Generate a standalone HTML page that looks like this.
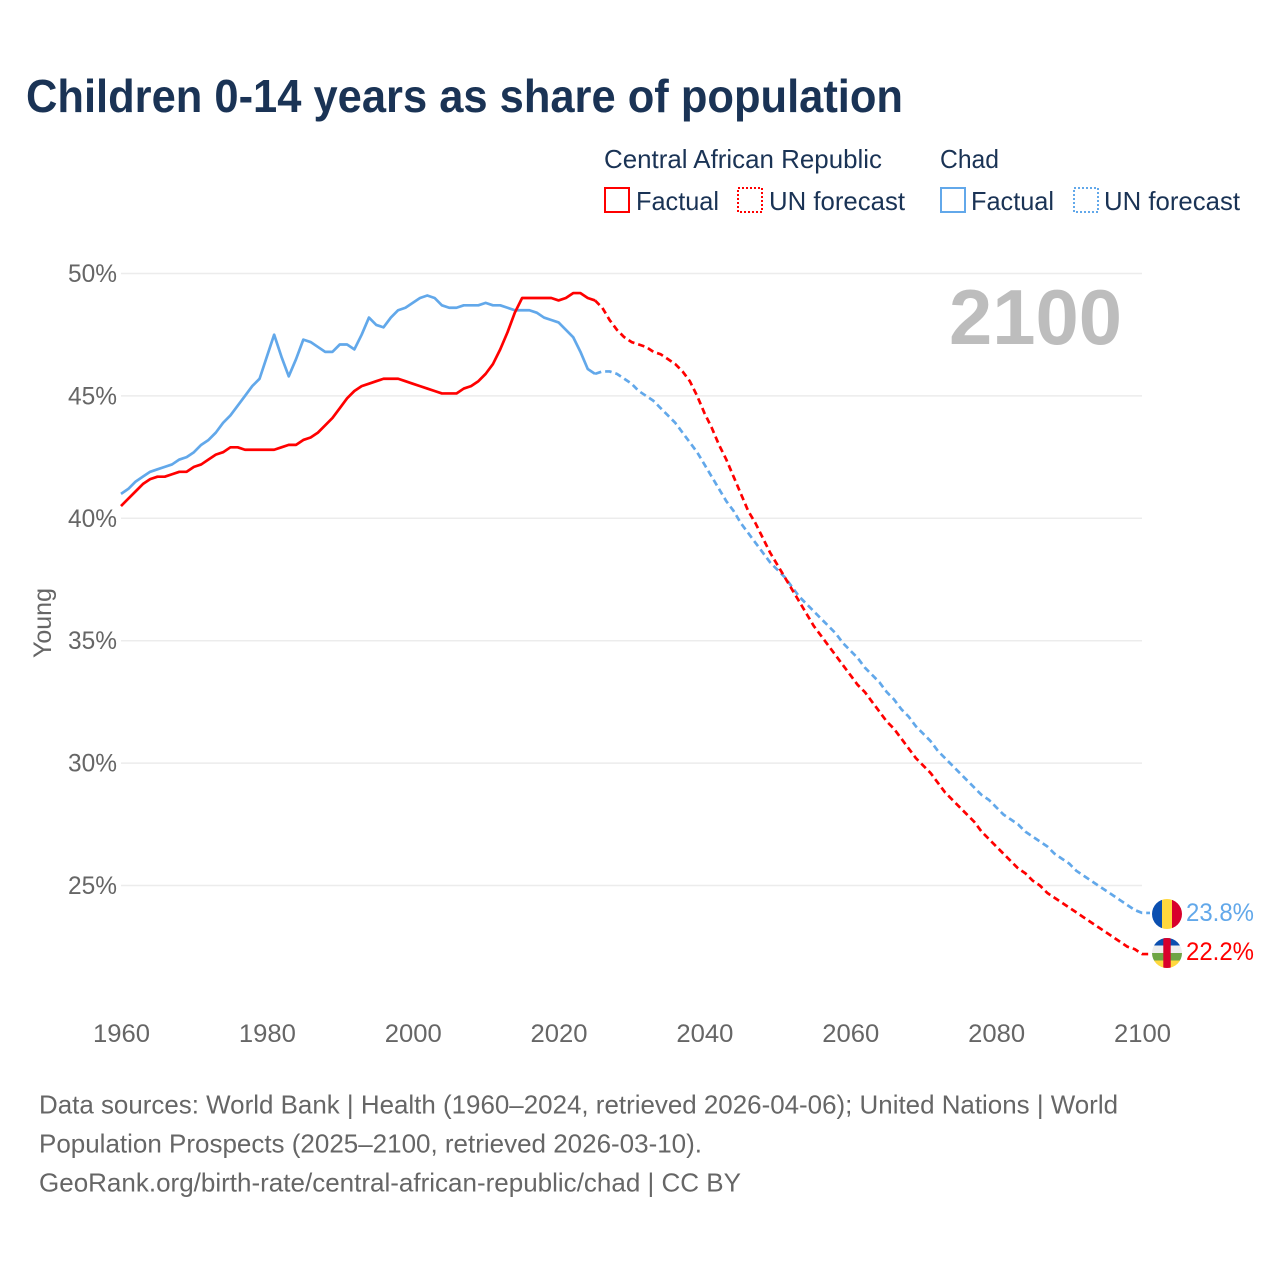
<!DOCTYPE html>
<html lang="en">
<head>
<meta charset="utf-8">
<title>Children 0-14 years as share of population</title>
<style>
html,body{margin:0;padding:0;background:#fff;}
svg{display:block;}
text{font-family:"Liberation Sans",sans-serif;}
</style>
</head>
<body>
<svg id="chart" xmlns="http://www.w3.org/2000/svg" width="1280" height="1280" viewBox="0 0 1280 1280">
  <defs>
    <clipPath id="clip-chad"><circle cx="1167" cy="914" r="15"/></clipPath>
    <clipPath id="clip-caf"><circle cx="1167" cy="953" r="15"/></clipPath>
  </defs>
  <rect x="0" y="0" width="1280" height="1280" fill="#fff"/>
  <text x="26" y="112" font-size="46" font-weight="700" fill="#1a3355" textLength="877" lengthAdjust="spacingAndGlyphs">Children 0-14 years as share of population</text>

  <g font-size="26" fill="#1a3355">
    <text x="604" y="168" textLength="278" lengthAdjust="spacingAndGlyphs">Central African Republic</text>
    <text x="940" y="168" textLength="59" lengthAdjust="spacingAndGlyphs">Chad</text>
    <rect x="605" y="188" width="24" height="24" fill="none" stroke="#ff0000" stroke-width="2" shape-rendering="crispEdges"/>
    <text x="636" y="210" textLength="83" lengthAdjust="spacingAndGlyphs">Factual</text>
    <rect x="738" y="188" width="24" height="24" fill="none" stroke="#ff0000" stroke-width="2" stroke-dasharray="2 2" shape-rendering="crispEdges"/>
    <text x="769" y="210" textLength="136" lengthAdjust="spacingAndGlyphs">UN forecast</text>
    <rect x="941" y="188" width="24" height="24" fill="none" stroke="#62a8ea" stroke-width="2" shape-rendering="crispEdges"/>
    <text x="971" y="210" textLength="83" lengthAdjust="spacingAndGlyphs">Factual</text>
    <rect x="1074" y="188" width="24" height="24" fill="none" stroke="#62a8ea" stroke-width="2" stroke-dasharray="2 2" shape-rendering="crispEdges"/>
    <text x="1104" y="210" textLength="136" lengthAdjust="spacingAndGlyphs">UN forecast</text>
  </g>

  <g id="grid"></g>
  <g id="y-ticks"></g>
  <g id="x-ticks"></g>
  <text transform="translate(51 623) rotate(-90)" text-anchor="middle" font-size="25" fill="#666666" textLength="70" lengthAdjust="spacingAndGlyphs">Young</text>
  <text x="949" y="344" font-size="78" font-weight="700" fill="#bdbdbd" textLength="173" lengthAdjust="spacingAndGlyphs">2100</text>

  <g id="series"></g>

  <g clip-path="url(#clip-chad)">
    <rect x="1152" y="899" width="10" height="30" fill="#0b4fb0"/>
    <rect x="1162" y="899" width="10" height="30" fill="#ffd83d"/>
    <rect x="1172" y="899" width="10" height="30" fill="#d8002c"/>
  </g>
  <g clip-path="url(#clip-caf)">
    <rect x="1152" y="938" width="30" height="7.5" fill="#0b4fb0"/>
    <rect x="1152" y="945.5" width="30" height="7.5" fill="#eeeeee"/>
    <rect x="1152" y="953" width="30" height="7.5" fill="#6da544"/>
    <rect x="1152" y="960.5" width="30" height="7.5" fill="#ffd83d"/>
    <rect x="1163.3" y="938" width="7.4" height="30" fill="#d8002c"/>
  </g>
  <g id="end-labels"></g>

  <g font-size="26" fill="#666666">
    <text x="39" y="1113.5" textLength="1079" lengthAdjust="spacingAndGlyphs">Data sources: World Bank | Health (1960–2024, retrieved 2026-04-06); United Nations | World</text>
    <text x="39" y="1152.5" textLength="663" lengthAdjust="spacingAndGlyphs">Population Prospects (2025–2100, retrieved 2026-03-10).</text>
    <text x="39" y="1191.5" textLength="702" lengthAdjust="spacingAndGlyphs">GeoRank.org/birth-rate/central-african-republic/chad | CC BY</text>
  </g>
</svg>
<script>
const yTickValues = [25, 30, 35, 40, 45, 50];
const xTickYears = [1960, 1980, 2000, 2020, 2040, 2060, 2080, 2100];
const factualStartYear = 1960;
const forecastStartYear = 2025;
const carFactual = [40.5,40.8,41.1,41.4,41.6,41.7,41.7,41.8,41.9,41.9,42.1,42.2,42.4,42.6,42.7,42.9,42.9,42.8,42.8,42.8,42.8,42.8,42.9,43.0,43.0,43.2,43.3,43.5,43.8,44.1,44.5,44.9,45.2,45.4,45.5,45.6,45.7,45.7,45.7,45.6,45.5,45.4,45.3,45.2,45.1,45.1,45.1,45.3,45.4,45.6,45.9,46.3,46.9,47.6,48.4,49.0,49.0,49.0,49.0,49.0,48.9,49.0,49.2,49.2,49.0,48.9];
const carForecast = [48.9,48.6,48.1,47.7,47.4,47.2,47.1,47.0,46.8,46.7,46.5,46.3,46.0,45.6,45.0,44.3,43.7,43.0,42.4,41.7,41.0,40.3,39.8,39.2,38.6,38.1,37.6,37.1,36.6,36.1,35.6,35.2,34.8,34.4,34.0,33.6,33.2,32.9,32.5,32.1,31.7,31.4,31.0,30.6,30.2,29.9,29.6,29.2,28.8,28.5,28.2,27.9,27.6,27.2,26.9,26.6,26.3,26.0,25.7,25.5,25.2,25.0,24.7,24.5,24.3,24.1,23.9,23.7,23.5,23.3,23.1,22.9,22.7,22.5,22.4,22.2];
const chadFactual = [41.0,41.2,41.5,41.7,41.9,42.0,42.1,42.2,42.4,42.5,42.7,43.0,43.2,43.5,43.9,44.2,44.6,45.0,45.4,45.7,46.6,47.5,46.6,45.8,46.5,47.3,47.2,47.0,46.8,46.8,47.1,47.1,46.9,47.5,48.2,47.9,47.8,48.2,48.5,48.6,48.8,49.0,49.1,49.0,48.7,48.6,48.6,48.7,48.7,48.7,48.8,48.7,48.7,48.6,48.5,48.5,48.5,48.4,48.2,48.1,48.0,47.7,47.4,46.8,46.1,45.9];
const chadForecast = [45.9,46.0,46.0,45.9,45.7,45.5,45.2,45.0,44.8,44.5,44.2,43.9,43.5,43.1,42.7,42.2,41.7,41.2,40.7,40.3,39.8,39.4,39.0,38.6,38.2,37.9,37.6,37.2,36.8,36.5,36.2,35.9,35.6,35.3,34.9,34.6,34.3,33.9,33.6,33.3,32.9,32.6,32.2,31.9,31.5,31.2,30.9,30.5,30.2,29.9,29.6,29.3,29.0,28.7,28.5,28.2,27.9,27.7,27.5,27.2,27.0,26.8,26.6,26.3,26.1,25.9,25.6,25.4,25.2,25.0,24.8,24.6,24.4,24.2,24.0,23.88];
const carEndLabel = "22.2%";
const chadEndLabel = "23.8%";

const SVG_NS = "http://www.w3.org/2000/svg";
const RED = "#ff0000";
const BLUE = "#62a8ea";
const plotLeft = 121, plotRight = 1142, plotYearMin = 1960, plotYearMax = 2100;
const plotTop = 273.5, plotBottom = 885.5, plotValueTop = 50, plotValueBottom = 25;

function xScale(year) {
  return plotLeft + (year - plotYearMin) * (plotRight - plotLeft) / (plotYearMax - plotYearMin);
}
function yScale(value) {
  return plotTop + (plotValueTop - value) * (plotBottom - plotTop) / (plotValueTop - plotValueBottom);
}
function make(tag, parentId) {
  const el = document.createElementNS(SVG_NS, tag);
  document.getElementById(parentId).appendChild(el);
  return el;
}
function pathFor(values, startYear, extendTo) {
  let d = values.map(function (v, i) {
    return (i ? "L" : "M") + xScale(startYear + i).toFixed(2) + " " + yScale(v).toFixed(2);
  }).join(" ");
  if (extendTo) {
    d += " H" + extendTo;
  }
  return d;
}

yTickValues.forEach(function (v) {
  const line = make("line", "grid");
  
  
  line.setAttribute("x1", plotLeft);
  line.setAttribute("x2", plotRight);
  line.setAttribute("y1", yScale(v));
  line.setAttribute("y2", yScale(v));
  line.setAttribute("stroke", "#ececec");
  line.setAttribute("stroke-width", "1.5");

  const label = make("text", "y-ticks");
  
  
  label.setAttribute("x", 117);
  label.setAttribute("y", yScale(v) + 8.5);
  label.setAttribute("text-anchor", "end");
  label.setAttribute("font-size", "25");
  label.setAttribute("fill", "#666666");
  label.setAttribute("textLength", "49");
  label.setAttribute("lengthAdjust", "spacingAndGlyphs");
  label.textContent = v + "%";
});

xTickYears.forEach(function (y) {
  const label = make("text", "x-ticks");
  
  
  label.setAttribute("x", xScale(y) + 0.5);
  label.setAttribute("y", 1042);
  label.setAttribute("text-anchor", "middle");
  label.setAttribute("font-size", "25");
  label.setAttribute("fill", "#666666");
  label.setAttribute("textLength", "57");
  label.setAttribute("lengthAdjust", "spacingAndGlyphs");
  label.textContent = y;
});

function drawLine(name, values, startYear, color, dashed, extendTo) {
  const p = make("path", "series");
  
  
  p.setAttribute("d", pathFor(values, startYear, extendTo));
  p.setAttribute("fill", "none");
  p.setAttribute("stroke", color);
  p.setAttribute("stroke-width", "2.7");
  p.setAttribute("stroke-linejoin", "round");
  if (dashed) {
    p.setAttribute("stroke-dasharray", "6.5 4");
  }
}
drawLine("line-chad-factual", chadFactual, factualStartYear, BLUE, false);
drawLine("line-chad-forecast", chadForecast, forecastStartYear, BLUE, true, 1150);
drawLine("line-car-factual", carFactual, factualStartYear, RED, false);
drawLine("line-car-forecast", carForecast, forecastStartYear, RED, true, 1150);

function drawEndLabel(name, text, color, yPos) {
  const t = make("text", "end-labels");
  
  
  t.setAttribute("x", 1186);
  t.setAttribute("y", yPos);
  t.setAttribute("font-size", "25");
  t.setAttribute("fill", color);
  t.setAttribute("textLength", "68");
  t.setAttribute("lengthAdjust", "spacingAndGlyphs");
  t.textContent = text;
}
drawEndLabel("end-label-chad", chadEndLabel, BLUE, 921);
drawEndLabel("end-label-car", carEndLabel, RED, 960);
</script>
</body>
</html>
